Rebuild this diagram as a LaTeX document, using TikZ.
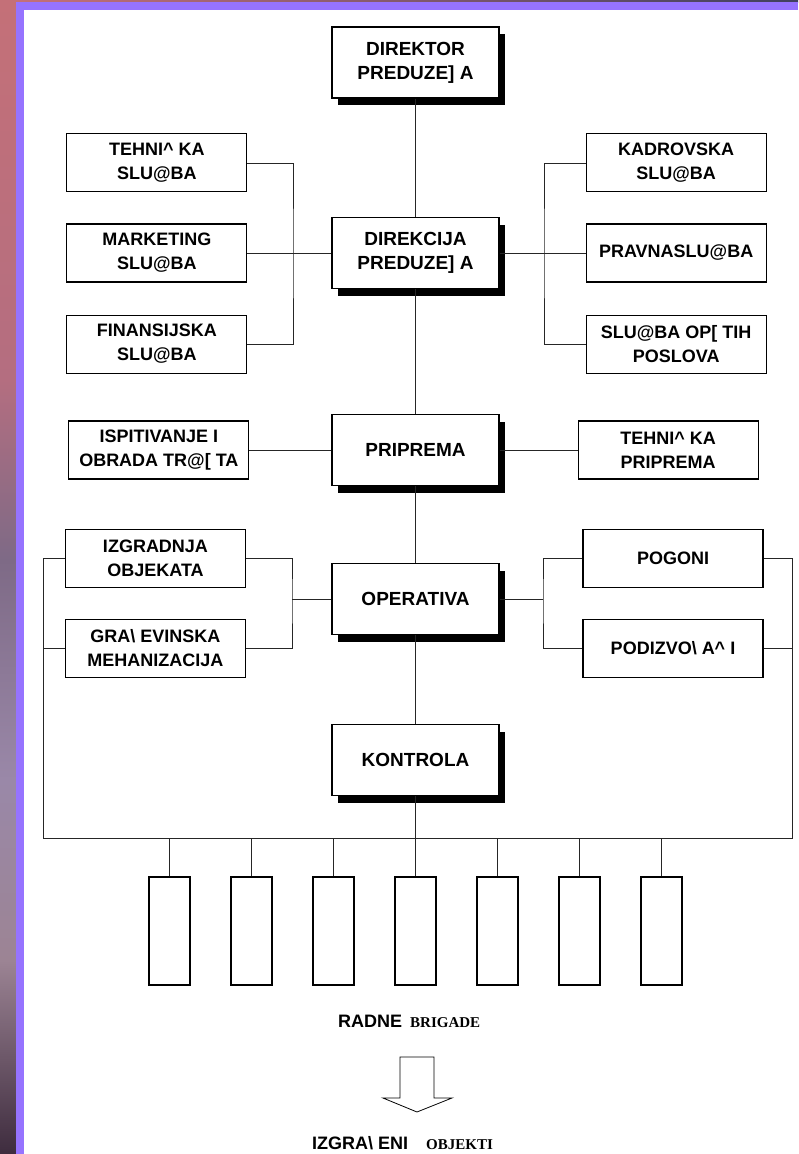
\documentclass[tikz,border=0pt]{standalone}
\usepackage{fontspec}
\setmainfont{Liberation Sans}
\newfontfamily\serifface{Liberation Serif}
\usepackage{tikz}
\usetikzlibrary{positioning, shadows, calc}
\definecolor{bandpurple}{HTML}{9673FF}
\definecolor{stripA}{HTML}{C47078}
\definecolor{stripB}{HTML}{B46E80}
\definecolor{stripC}{HTML}{7E6A86}
\definecolor{stripD}{HTML}{9A88A8}
\definecolor{stripE}{HTML}{9C8494}
\definecolor{stripF}{HTML}{3E2C3E}
\definecolor{topdark}{HTML}{404060}
\newcommand{\Ch}{\textasciicircum\ }
\newcommand{\Dj}{\textbackslash\ }
\tikzset{
    chief/.style={draw, line width=1.2pt, fill=white, minimum width=167pt, minimum height=71pt,
      align=center, font=\fontsize{19}{24}\selectfont\bfseries,
      drop shadow={shadow xshift=6pt, shadow yshift=-7pt, fill=black, opacity=1}},
    dept/.style={draw, line width=1.1pt, fill=white, minimum width=180pt, minimum height=58pt,
      align=center, font=\fontsize{18}{24}\selectfont\bfseries},
    crew/.style={draw, line width=1.1pt, minimum width=41pt, minimum height=108pt},
    conn/.style={line width=0.8pt, black!85},
    caption/.style={font=\fontsize{18}{22}\selectfont\bfseries, inner sep=0pt},
    small serif/.style={font=\serifface\fontsize{15}{18}\selectfont\bfseries},
}

\begin{document}
\begin{tikzpicture}[x=1pt, y=-1pt]
    \useasboundingbox (0,0) rectangle (798,1154);

    % frame
    \shade[top color=stripA, bottom color=stripB] (0,0) rectangle (16,380);
    \shade[top color=stripB, bottom color=stripC] (0,380) rectangle (16,560);
    \shade[top color=stripC, bottom color=stripD] (0,560) rectangle (16,780);
    \shade[top color=stripD, bottom color=stripE] (0,780) rectangle (16,960);
    \shade[top color=stripE, bottom color=stripF] (0,960) rectangle (16,1154);
    \shade[left color=stripA, right color=topdark] (16,0) rectangle (798,2);
    \fill[bandpurple] (16,2) rectangle (798,1154);
    \fill[white] (24,10) rectangle (798,1154);

    \node[chief] (direktor) at (415.5,62.5) {DIREKTOR\\PREDUZE] A};
    \node[chief] (direkcija) at (415.5,253) {DIREKCIJA\\PREDUZE] A};
    \node[chief] (priprema) at (415.5,450) {PRIPREMA};
    \node[chief] (operativa) at (415.5,599) {OPERATIVA};
    \node[chief] (kontrola) at (415.5,760) {KONTROLA};

    \node[dept, left=84pt of direkcija] (marketing) {MARKETING\\SLU@BA};
    \node[dept, above=31pt of marketing] (tehSluzba) {TEHNI\Ch KA\\SLU@BA};
    \node[dept, below=32pt of marketing] (finansije) {FINANSIJSKA\\SLU@BA};
    \node[dept, right=86pt of direkcija] (pravna) {PRAVNASLU@BA};
    \node[dept, above=31pt of pravna] (kadrovska) {KADROVSKA\\SLU@BA};
    \node[dept, below=32pt of pravna] (opsti) {SLU@BA OP[ TIH\\POSLOVA};

    \node[dept, left=82pt of priprema] (ispitivanje) {ISPITIVANJE I\\OBRADA TR@[ TA};
    \node[dept, right=78pt of priprema] (tehPriprema) {TEHNI\Ch KA\\PRIPREMA};

    \node[dept] (izgradnja) at (155.5,558.5) {IZGRADNJA\\OBJEKATA};
    \node[dept] (gradjevinska) at (155.5,648.5) {GRA\Dj EVINSKA\\MEHANIZACIJA};
    \node[dept] (pogoni) at (673,558.5) {POGONI};
    \node[dept] (podizvodjaci) at (673,648.5) {PODIZVO\Dj A\Ch I};

    \coordinate (lbus) at (293,253);
    \coordinate (rbus) at (544,253);
    \coordinate (lop) at (292,599);
    \coordinate (rop) at (543,599);
    \coordinate (busL) at (43,838);
    \coordinate (busR) at (792,838);

    \draw[conn] (direktor) -- (direkcija) -- (priprema) -- (operativa) -- (kontrola);
    \draw[conn] (kontrola) -- (kontrola |- busL);

    \draw[conn] (tehSluzba.east) -| (lbus) |- (finansije.east);
    \draw[conn] (marketing) -- (direkcija);
    \draw[conn] (kadrovska.west) -| (rbus) |- (opsti.west);
    \draw[conn] (direkcija) -- (pravna);

    \draw[conn] (ispitivanje) -- (priprema) -- (tehPriprema);

    \draw[conn] (izgradnja.east) -| (lop) |- (gradjevinska.east);
    \draw[conn] (lop) -- (operativa);
    \draw[conn] (pogoni.west) -| (rop) |- (podizvodjaci.west);
    \draw[conn] (rop) -- (operativa);

    \draw[conn] (izgradnja.west) -| (busL) -- (busR) |- (pogoni.east);
    \draw[conn] (gradjevinska.west) -- (gradjevinska.west -| busL);
    \draw[conn] (podizvodjaci.east) -- (podizvodjaci.east -| busR);

    \foreach \i in {1,...,7} {
      \node[crew] (brigada\i) at ({415.5+82*(\i-4)},931) {};
      \draw[conn] (brigada\i.north) -- (brigada\i.north |- busL);
    }

    \node[caption, anchor=base west] (radne) at (338,1027)
      {RADNE\hspace{8pt}\tikz[baseline]\node[small serif, inner sep=0pt, anchor=base]{BRIGADE};};
    \draw[line width=0.8pt] (400,1057) -- (434,1057) -- (434,1098) -- (452,1098)
      -- (417,1112) -- (383,1098) -- (400,1098) -- cycle;
    \node[caption, anchor=base west] (objekti) at (312,1149)
      {IZGRA\Dj ENI\hspace{18pt}{\serifface\fontsize{15}{18}\selectfont\bfseries OBJEKTI}};
  \end{tikzpicture}
\end{document}
